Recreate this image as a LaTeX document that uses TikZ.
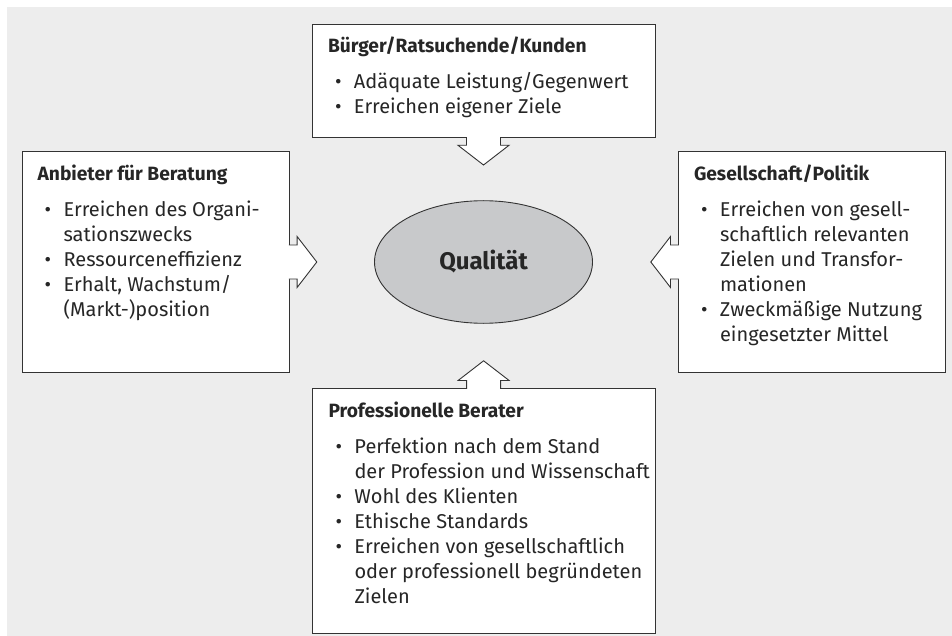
\documentclass[tikz,border=0pt]{standalone}
\usepackage{fontspec}
\setmainfont{Fira Sans}
\usetikzlibrary{shapes.geometric}
\definecolor{bgc}{HTML}{EDEDED}
\definecolor{ellc}{HTML}{C8C9CB}
\definecolor{lnc}{HTML}{333333}
\definecolor{txc}{HTML}{262626}
\newcommand\bul{\makebox[26pt][l]{\hspace*{7pt}\textbullet}}
\newcommand\ti[1]{\hbox{\fontsize{19.2pt}{25pt}\selectfont\bfseries #1}\vskip 11pt}
\newcommand\li[1]{\hbox{\bul #1}}
\newcommand\lc[1]{\hbox{\hskip 26pt #1}}
\begin{document}
\begin{tikzpicture}[x=1pt,y=-1pt,
  box/.style={draw=lnc, fill=white, line width=0.9pt, inner sep=0pt, outer sep=0pt},
  txt/.style={anchor=base west, inner sep=0pt, outer sep=0pt, text=txc,
    font=\fontsize{20pt}{25pt}\selectfont},
  blockarrow/.pic={
    \fill[white] (-17,-1.5) -- (-17,7.8) -- (-25.5,7.8) -- (0,27.5) -- (25.5,7.8) -- (17,7.8) -- (17,-1.5) -- cycle;
    \draw[lnc, line width=0.9pt, line join=miter] (-17,-0.45) -- (-17,7.8) -- (-25.5,7.8) -- (0,27.5) -- (25.5,7.8) -- (17,7.8) -- (17,-0.45);
  }]
\useasboundingbox (0,0) rectangle (952,636);
\fill[bgc] (7,7) rectangle (952,636);

\node[box, minimum width=343, minimum height=113.5] (top) at (483.5,80.75) {};
\node[box, minimum width=266.6, minimum height=220.6] (left) at (156,262) {};
\node[box, minimum width=267.4, minimum height=220.6] (right) at (812,262) {};
\node[box, minimum width=342.7, minimum height=245] (bottom) at (483.6,510.8) {};

\pic at (top.south) {blockarrow};
\pic[rotate=90] at (left.east) {blockarrow};
\pic[rotate=-90] at (right.west) {blockarrow};
\pic[rotate=180] at (bottom.north) {blockarrow};

\node[ellipse, draw=lnc, fill=ellc, line width=0.9pt, minimum width=218, minimum height=122.6,
  inner sep=0pt, text=txc, font=\fontsize{24pt}{30pt}\selectfont\bfseries] (q) at (483.5,262) {Qualität};

\node[txt] (ttop) at (328,53) {\vtop{%
  \ti{Bürger/Ratsuchende/Kunden}
  \li{Adäquate Leistung/Gegenwert}
  \li{Erreichen eigener Ziele}}};
\node[txt] (tleft) at (37.6,181) {\vtop{%
  \ti{Anbieter für Beratung}
  \li{Erreichen des Organi-}
  \lc{sationszwecks}
  \li{Ressourceneffizienz}
  \li{Erhalt, Wachstum/}
  \lc{(Markt-)position}}};
\node[txt] (tright) at (694,181) {\vtop{%
  \ti{Gesellschaft/Politik}
  \li{Erreichen von gesell-}
  \lc{schaftlich relevanten}
  \lc{Zielen und Transfor-}
  \lc{mationen}
  \li{Zweckmäßige Nutzung}
  \lc{eingesetzter Mittel}}};
\node[txt] (tbottom) at (328.5,417.5) {\vtop{%
  \ti{Professionelle Berater}
  \li{Perfektion nach dem Stand}
  \lc{der Profession und Wissenschaft}
  \li{Wohl des Klienten}
  \li{Ethische Standards}
  \li{Erreichen von gesellschaftlich}
  \lc{oder professionell begründeten}
  \lc{Zielen}}};
\end{tikzpicture}
\end{document}
